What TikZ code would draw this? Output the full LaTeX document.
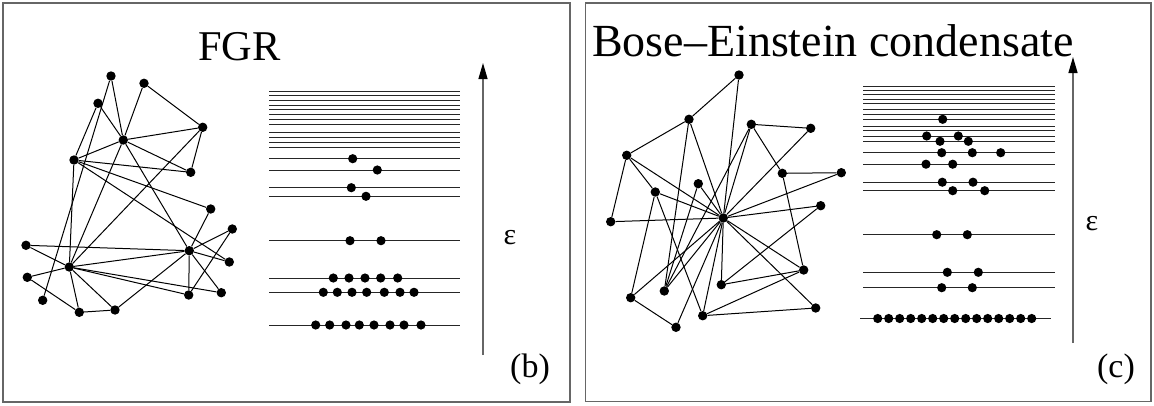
\documentclass[tikz,border=0pt]{standalone}
\usepackage{fontspec}
\setmainfont{Liberation Serif}
\usetikzlibrary{arrows.meta}
\begin{document}
\begin{tikzpicture}[x=1pt,y=-1pt,
  gnode/.style={circle,fill=black,inner sep=0pt,minimum size=9.4pt},
  edge/.style={line width=1pt,black},
  lev/.style={line width=1pt,black!85},
  panel/.style={draw=black!60,line width=1.5pt},
  axis/.style={line width=1.3pt,black!60,-{Triangle[length=16pt,width=9pt,color=black]}},
  ldot/.style={fill=black}]
\useasboundingbox (0,0) rectangle (1154,405);
\draw[panel] (3,3) rectangle (570,402);
\draw[panel] (585.5,3) rectangle (1151,401.5);
% titles
\node[anchor=base west,inner sep=0pt,font=\fontsize{42.4}{50}\selectfont] (t1) at (198,60) {FGR};
\node[anchor=base west,inner sep=0pt,font=\fontsize{46}{54}\selectfont] (t2) at (592,56) {Bose–Einstein condensate};
% axes
\coordinate (a1s) at (483,355); \coordinate (a1e) at (483,63);
\coordinate (a2s) at (1073,343); \coordinate (a2e) at (1073,57);
\draw[axis] (a1s) -- (a1e);
\draw[axis] (a2s) -- (a2e);
\node[font=\fontsize{30}{30}\selectfont] (e1) at (510,238) {ε};
\node[font=\fontsize{30}{30}\selectfont] (e2) at (1092,224) {ε};
\node[anchor=base,font=\fontsize{34}{34}\selectfont] (lb) at (530,377) {(b)};
\node[anchor=base,font=\fontsize{34}{34}\selectfont] (lc) at (1116,377) {(c)};
% left levels
\foreach \y in {91.7,95.7,100,105,109.3,114.3,119.3,124.7,132.3,137.3,142,147.3,158.7,170,187.7,196.3,240.7,278,292.3,325}
  \draw[lev] (269,\y) -- (460,\y);
\foreach \x/\y in {352.7/158.7,377.3/170,351.3/187.7,366/196.3,350/240.7,381/240.7,
  333.3/278,349/278,365/278,380.7/278,397.7/278,
  323.3/292.3,337.3/292.3,352/292.3,366.7/292.3,384.3/292.3,400/292.3,414/292.3,
  315.7/325,329.7/325,346/325,359.3/325,374/325,390/325,404/325,421/325}
  \fill[ldot] (\x,\y) circle (4.6);
% right levels
\foreach \y in {86,90.7,94.3,99,103.3,109,114,119.3,126,130.5,136,141.3,152.7,164.2,182.2,190.7,234.7,272.3,287.7}
  \draw[lev] (863,\y) -- (1055,\y);
\draw[lev] (860,318.5) -- (1051,318.5);
\foreach \x/\y in {942.7/119.3,926.7/136,958.3/136,940/141.3,968.3/141.3,
  941.7/152.7,972.3/152.7,1000.7/152.7,926/164.2,952.7/164.2,
  942.3/182.2,973/182.2,952.7/190.7,984.7/190.7,936.7/234.7,967.3/234.7,
  947.3/272.3,978.3/272.3,941.7/287.7,972.3/287.7}
  \fill[ldot] (\x,\y) circle (4.6);
\foreach \i in {0,...,14}
  \fill[ldot] (877.7+11*\i,318.5) circle (4.6);
% left graph
\foreach \n/\x/\y in {A/111/76,B/144/83.3,C/98/103.3,D/123.3/140,E/202.7/127.3,F/74/160,
  G/190.7/172.3,H/210.7/209,I/232.3/229,J/26/245.3,K/189.3/250.7,L/229.3/262,
  M/69.3/267,N/27.3/277.3,O/188.7/295,P/221.3/292.7,Q/42.7/300.3,R/79.3/312.3,S/115/310}
  \node[gnode] (L\n) at (\x,\y) {};
\foreach \u/\v in {A/D,A/Q,B/D,B/E,C/D,C/F,D/E,D/F,D/G,D/K,D/M,E/G,E/M,F/G,F/H,F/L,F/M,
  H/K,I/K,I/O,J/K,J/M,K/L,K/M,K/O,K/P,K/S,M/N,M/O,M/P,M/R,M/S,N/R,R/S}
  \draw[edge] (L\u) -- (L\v);
% right graph
\foreach \n/\x/\y in {a/739/75,b/689/119.3,c/751.3/124.3,d/810.7/128.3,e/626.7/155.3,
  f/782.3/173.3,g/841.3/172.7,h/698.3/183.7,i/655.3/192,j/820.7/205.7,k/723.3/218,
  l/610.7/221.7,m/803.7/270,n/721.3/284.7,o/664.3/291,p/630.7/297.7,q/815.7/308,
  r/702.7/315.7,s/676/327.3}
  \node[gnode] (R\n) at (\x,\y) {};
\foreach \u/\v in {a/b,a/k,b/e,b/o,b/k,c/d,c/f,c/k,c/o,d/k,e/k,e/i,e/l,f/g,f/m,g/k,
  j/k,j/n,h/k,h/o,i/k,i/p,i/r,l/k,k/m,k/n,k/p,k/q,k/r,k/s,k/o,m/n,m/r,p/s,q/r}
  \draw[edge] (R\u) -- (R\v);
\end{tikzpicture}
\end{document}
